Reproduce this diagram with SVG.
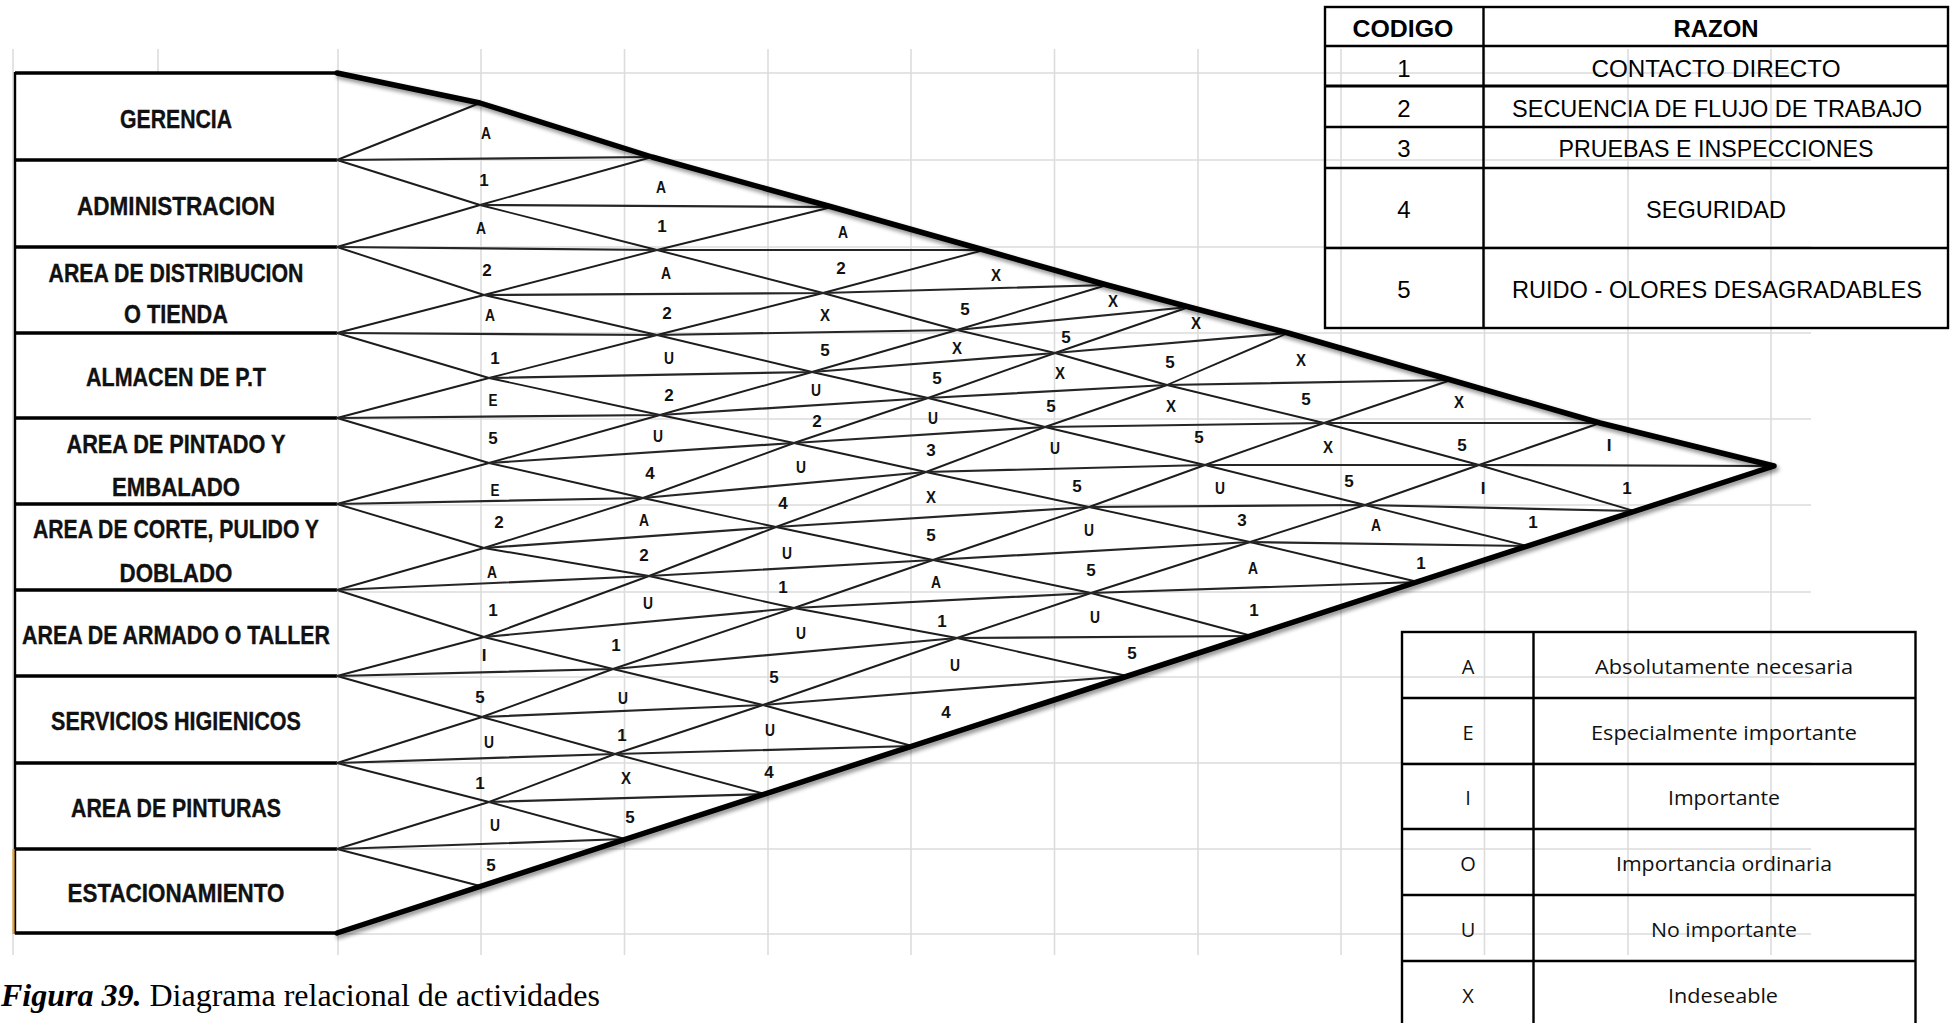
<svg xmlns="http://www.w3.org/2000/svg" width="1953" height="1023" viewBox="0 0 1953 1023">
<defs>
<style>
.grid{stroke:#dcdcdc;stroke-width:1.6;fill:none}
.lat{fill:none;stroke:#1c1c1c;stroke-width:1.9;stroke-linejoin:round;stroke-linecap:round}
.hl{fill:none;stroke:#262626;stroke-width:2.2;stroke-linejoin:round;stroke-linecap:round}
.edge{fill:none;stroke:#000;stroke-width:5.5;stroke-linejoin:round;stroke-linecap:round}
.rowl{stroke:#000;stroke-width:3.6;fill:none}
.box{fill:#fff}
.dept{font-family:'Liberation Sans',Arial,sans-serif;font-weight:bold;font-size:26px;fill:#111;stroke:#111;stroke-width:0.35;text-anchor:middle}
.lab{font-family:'Liberation Sans',Arial,sans-serif;font-weight:bold;font-size:17px;fill:#111;text-anchor:middle}
.t1{font-family:'Liberation Sans',Arial,sans-serif;font-size:24px;fill:#000;text-anchor:middle}
.t1b{font-family:'Liberation Sans',Arial,sans-serif;font-size:24px;font-weight:bold;fill:#000;text-anchor:middle}
.t2{font-family:'Open Sans','Liberation Sans',sans-serif;font-size:20px;fill:#111;text-anchor:middle}
.tb{fill:none;stroke:#000;stroke-width:2.4}
.cap{font-family:'Liberation Serif','Times New Roman',serif;font-size:32px;fill:#000}
</style>
<filter id="sh" x="-5%" y="-5%" width="112%" height="115%">
<feGaussianBlur in="SourceAlpha" stdDeviation="2.2"/>
<feOffset dx="2" dy="3" result="b"/>
<feComponentTransfer><feFuncA type="linear" slope="0.45"/></feComponentTransfer>
<feMerge><feMergeNode/><feMergeNode in="SourceGraphic"/></feMerge>
</filter>
</defs>
<rect width="1953" height="1023" fill="#fff"/>

<g id="grid" class="grid">
<path d="M13,49V955M338,49V955M481,49V955M624.5,49V955M768,49V955M911,49V955M1054.5,49V955M1198,49V955M1341,49V955M1484.5,49V955M1628,49V955M1771,49V955M158,49V73"/>
<path d="M13,73H1811M13,160H1811M13,247H1811M13,333H1811M13,419H1811M13,505H1811M13,592H1811M13,677H1811M13,763H1811M13,849H1811M13,934H1811"/>
</g>

<g id="departamentos">
<g id="gerencia"><rect class="box" x="15" y="73" width="322" height="87"/><text class="dept" x="176" y="128" textLength="112" lengthAdjust="spacingAndGlyphs">GERENCIA</text></g>
<g id="administracion"><rect class="box" x="15" y="160" width="322" height="87"/><text class="dept" x="176" y="215" textLength="198" lengthAdjust="spacingAndGlyphs">ADMINISTRACION</text></g>
<g id="distribucion"><rect class="box" x="15" y="247" width="322" height="86"/><text class="dept" x="176" y="282" textLength="255" lengthAdjust="spacingAndGlyphs">AREA DE DISTRIBUCION</text><text class="dept" x="176" y="323" textLength="104" lengthAdjust="spacingAndGlyphs">O TIENDA</text></g>
<g id="almacen"><rect class="box" x="15" y="333" width="322" height="85"/><text class="dept" x="176" y="386" textLength="180" lengthAdjust="spacingAndGlyphs">ALMACEN DE P.T</text></g>
<g id="pintado"><rect class="box" x="15" y="418" width="322" height="86"/><text class="dept" x="176" y="453" textLength="219" lengthAdjust="spacingAndGlyphs">AREA DE PINTADO Y</text><text class="dept" x="176" y="496" textLength="128" lengthAdjust="spacingAndGlyphs">EMBALADO</text></g>
<g id="corte"><rect class="box" x="15" y="504" width="322" height="86"/><text class="dept" x="176" y="538" textLength="286" lengthAdjust="spacingAndGlyphs">AREA DE CORTE, PULIDO Y</text><text class="dept" x="176" y="582" textLength="113" lengthAdjust="spacingAndGlyphs">DOBLADO</text></g>
<g id="armado"><rect class="box" x="15" y="590" width="322" height="86"/><text class="dept" x="176" y="644" textLength="308" lengthAdjust="spacingAndGlyphs">AREA DE ARMADO O TALLER</text></g>
<g id="servicios"><rect class="box" x="15" y="676" width="322" height="87"/><text class="dept" x="176" y="730" textLength="250" lengthAdjust="spacingAndGlyphs">SERVICIOS HIGIENICOS</text></g>
<g id="pinturas"><rect class="box" x="15" y="763" width="322" height="86"/><text class="dept" x="176" y="817" textLength="210" lengthAdjust="spacingAndGlyphs">AREA DE PINTURAS</text></g>
<g id="estacionamiento"><rect class="box" x="15" y="849" width="322" height="84"/><text class="dept" x="176" y="902" textLength="217" lengthAdjust="spacingAndGlyphs">ESTACIONAMIENTO</text></g>
<g id="bordes">
<path class="rowl" d="M15,73H337M15,160H337M15,247H337M15,333H337M15,418H337M15,504H337M15,590H337M15,676H337M15,763H337M15,849H337M15,933H337"/>
<path d="M15,72V934" stroke="#000" stroke-width="2.4"/>
<path d="M13.5,849V934" stroke="#e0a13a" stroke-width="2.2"/>
</g>
</g>

<g id="conectores">
<g id="diagonales-bajan">
<polyline class="lat" points="337,160 480,205 657,250 823,293 957,330 1055,353 1167,385 1324,423 1479,465 1634,511"/>
<polyline class="lat" points="337,247 484,295 657,335 812,372 928,398 1045,427 1205,465 1365,505 1527,546"/>
<polyline class="lat" points="337,333 489,378 660,415 794,443 926,472 1089,507 1250,542 1418,582"/>
<polyline class="lat" points="337,418 489,463 643,498 776,527 933,560 1091,593 1252,636"/>
<polyline class="lat" points="337,504 484,548 649,576 794,608 957,638 1127,676"/>
<polyline class="lat" points="337,590 484,637 613,669 763,705 912,746"/>
<polyline class="lat" points="337,676 482,717 615,754 765,794"/>
<polyline class="lat" points="337,763 489,802 625,839"/>
<polyline class="lat" points="337,849 480,886"/>
</g>
<g id="diagonales-suben">
<polyline class="lat" points="337,160 480,103"/>
<polyline class="lat" points="337,247 480,205 652,157"/>
<polyline class="lat" points="337,333 484,295 657,250 832,207"/>
<polyline class="lat" points="337,418 489,378 657,335 823,293 984,250"/>
<polyline class="lat" points="337,504 489,463 660,415 812,372 957,330 1107,285"/>
<polyline class="lat" points="337,590 484,548 643,498 794,443 928,398 1055,353 1189,307"/>
<polyline class="lat" points="337,676 484,637 649,576 776,527 926,472 1045,427 1167,385 1288,333"/>
<polyline class="lat" points="337,763 482,717 613,669 794,608 933,560 1089,507 1205,465 1324,423 1451,380"/>
<polyline class="lat" points="337,849 489,802 615,754 763,705 957,638 1091,593 1250,542 1365,505 1479,465 1600,423"/>
</g>
<g id="horizontales">
<polyline class="hl" points="337,160 652,157"/>
<polyline class="hl" points="480,205 832,207"/>
<polyline class="hl" points="337,247 657,250 984,250"/>
<polyline class="hl" points="484,295 823,293 1107,285"/>
<polyline class="hl" points="337,333 657,335 957,330 1189,307"/>
<polyline class="hl" points="489,378 812,372 1055,353 1288,333"/>
<polyline class="hl" points="337,418 660,415 928,398 1167,385 1451,380"/>
<polyline class="hl" points="489,463 794,443 1045,427 1324,423 1600,423"/>
<polyline class="hl" points="337,504 643,498 926,472 1205,465 1479,465 1774,466"/>
<polyline class="hl" points="484,548 776,527 1089,507 1365,505 1634,511"/>
<polyline class="hl" points="337,590 649,576 933,560 1250,542 1527,546"/>
<polyline class="hl" points="484,637 794,608 1091,593 1418,582"/>
<polyline class="hl" points="337,676 613,669 957,638 1252,636"/>
<polyline class="hl" points="482,717 763,705 1127,676"/>
<polyline class="hl" points="337,763 615,754 912,746"/>
<polyline class="hl" points="489,802 765,794"/>
<polyline class="hl" points="337,849 625,839"/>
</g>
<path id="contorno" class="edge" filter="url(#sh)" d="M337,73 L480,103 L652,157 L832,207 L984,250 L1107,285 L1189,307 L1288,333 L1451,380 L1600,423 L1774,466 L337,933"/>
</g>

<g id="relaciones" class="lab">
<text x="486" y="139" textLength="10" lengthAdjust="spacingAndGlyphs">A</text><text x="484" y="186">1</text>
<text x="661" y="193" textLength="10" lengthAdjust="spacingAndGlyphs">A</text><text x="662" y="232">1</text>
<text x="843" y="238" textLength="10" lengthAdjust="spacingAndGlyphs">A</text><text x="841" y="274">2</text>
<text x="996" y="281" textLength="10" lengthAdjust="spacingAndGlyphs">X</text><text x="965" y="315">5</text>
<text x="1113" y="307" textLength="10" lengthAdjust="spacingAndGlyphs">X</text><text x="1066" y="343">5</text>
<text x="1196" y="329" textLength="10" lengthAdjust="spacingAndGlyphs">X</text><text x="1170" y="368">5</text>
<text x="1301" y="366" textLength="10" lengthAdjust="spacingAndGlyphs">X</text><text x="1306" y="405">5</text>
<text x="1459" y="408" textLength="10" lengthAdjust="spacingAndGlyphs">X</text><text x="1462" y="451">5</text>
<text x="1609" y="451">I</text><text x="1627" y="494">1</text>
<text x="481" y="234" textLength="10" lengthAdjust="spacingAndGlyphs">A</text><text x="487" y="276">2</text>
<text x="666" y="279" textLength="10" lengthAdjust="spacingAndGlyphs">A</text><text x="667" y="319">2</text>
<text x="825" y="321" textLength="10" lengthAdjust="spacingAndGlyphs">X</text><text x="825" y="356">5</text>
<text x="957" y="354" textLength="10" lengthAdjust="spacingAndGlyphs">X</text><text x="937" y="384">5</text>
<text x="1060" y="379" textLength="10" lengthAdjust="spacingAndGlyphs">X</text><text x="1051" y="412">5</text>
<text x="1171" y="412" textLength="10" lengthAdjust="spacingAndGlyphs">X</text><text x="1199" y="443">5</text>
<text x="1328" y="453" textLength="10" lengthAdjust="spacingAndGlyphs">X</text><text x="1349" y="487">5</text>
<text x="1483" y="494">I</text><text x="1533" y="528">1</text>
<text x="490" y="321" textLength="10" lengthAdjust="spacingAndGlyphs">A</text><text x="495" y="364">1</text>
<text x="669" y="364" textLength="10" lengthAdjust="spacingAndGlyphs">U</text><text x="669" y="401">2</text>
<text x="816" y="396" textLength="10" lengthAdjust="spacingAndGlyphs">U</text><text x="817" y="427">2</text>
<text x="933" y="424" textLength="10" lengthAdjust="spacingAndGlyphs">U</text><text x="931" y="456">3</text>
<text x="1055" y="454" textLength="10" lengthAdjust="spacingAndGlyphs">U</text><text x="1077" y="492">5</text>
<text x="1220" y="494" textLength="10" lengthAdjust="spacingAndGlyphs">U</text><text x="1242" y="526">3</text>
<text x="1376" y="531" textLength="10" lengthAdjust="spacingAndGlyphs">A</text><text x="1421" y="569">1</text>
<text x="493" y="406" textLength="9" lengthAdjust="spacingAndGlyphs">E</text><text x="493" y="444">5</text>
<text x="658" y="442" textLength="10" lengthAdjust="spacingAndGlyphs">U</text><text x="650" y="479">4</text>
<text x="801" y="473" textLength="10" lengthAdjust="spacingAndGlyphs">U</text><text x="783" y="509">4</text>
<text x="931" y="503" textLength="10" lengthAdjust="spacingAndGlyphs">X</text><text x="931" y="541">5</text>
<text x="1089" y="536" textLength="10" lengthAdjust="spacingAndGlyphs">U</text><text x="1091" y="576">5</text>
<text x="1253" y="574" textLength="10" lengthAdjust="spacingAndGlyphs">A</text><text x="1254" y="616">1</text>
<text x="495" y="496" textLength="9" lengthAdjust="spacingAndGlyphs">E</text><text x="499" y="528">2</text>
<text x="644" y="526" textLength="10" lengthAdjust="spacingAndGlyphs">A</text><text x="644" y="561">2</text>
<text x="787" y="559" textLength="10" lengthAdjust="spacingAndGlyphs">U</text><text x="783" y="593">1</text>
<text x="936" y="588" textLength="10" lengthAdjust="spacingAndGlyphs">A</text><text x="942" y="627">1</text>
<text x="1095" y="623" textLength="10" lengthAdjust="spacingAndGlyphs">U</text><text x="1132" y="659">5</text>
<text x="492" y="578" textLength="10" lengthAdjust="spacingAndGlyphs">A</text><text x="493" y="616">1</text>
<text x="648" y="609" textLength="10" lengthAdjust="spacingAndGlyphs">U</text><text x="616" y="651">1</text>
<text x="801" y="639" textLength="10" lengthAdjust="spacingAndGlyphs">U</text><text x="774" y="683">5</text>
<text x="955" y="671" textLength="10" lengthAdjust="spacingAndGlyphs">U</text><text x="946" y="718">4</text>
<text x="484" y="661">I</text><text x="480" y="703">5</text>
<text x="623" y="704" textLength="10" lengthAdjust="spacingAndGlyphs">U</text><text x="622" y="741">1</text>
<text x="770" y="736" textLength="10" lengthAdjust="spacingAndGlyphs">U</text><text x="769" y="778">4</text>
<text x="489" y="748" textLength="10" lengthAdjust="spacingAndGlyphs">U</text><text x="480" y="789">1</text>
<text x="626" y="784" textLength="10" lengthAdjust="spacingAndGlyphs">X</text><text x="630" y="823">5</text>
<text x="495" y="831" textLength="10" lengthAdjust="spacingAndGlyphs">U</text><text x="491" y="871">5</text>
</g>

<g id="tabla-codigos">
<rect class="tb" x="1325" y="7" width="623" height="321"/>
<path class="tb" d="M1483.5,7V328M1325,46H1948M1325,127H1948M1325,168H1948M1325,248H1948"/>
<path d="M1325,86H1948" stroke="#000" stroke-width="3"/>
<text class="t1b" x="1403" y="37" textLength="101" lengthAdjust="spacingAndGlyphs">CODIGO</text>
<text class="t1b" x="1716" y="37" textLength="85" lengthAdjust="spacingAndGlyphs">RAZON</text>
<text class="t1" x="1404" y="77">1</text>
<text class="t1" x="1716" y="77" textLength="249" lengthAdjust="spacingAndGlyphs">CONTACTO DIRECTO</text>
<text class="t1" x="1404" y="117">2</text>
<text class="t1" x="1717" y="117" textLength="410" lengthAdjust="spacingAndGlyphs">SECUENCIA DE FLUJO DE TRABAJO</text>
<text class="t1" x="1404" y="157">3</text>
<text class="t1" x="1716" y="157" textLength="315" lengthAdjust="spacingAndGlyphs">PRUEBAS E INSPECCIONES</text>
<text class="t1" x="1404" y="218">4</text>
<text class="t1" x="1716" y="218" textLength="140" lengthAdjust="spacingAndGlyphs">SEGURIDAD</text>
<text class="t1" x="1404" y="298">5</text>
<text class="t1" x="1717" y="298" textLength="410" lengthAdjust="spacingAndGlyphs">RUIDO - OLORES DESAGRADABLES</text>
</g>

<g id="tabla-leyenda">
<rect class="tb" x="1402" y="632" width="513.5" height="400"/>
<path class="tb" d="M1533.5,632V1030M1402,698H1915.5M1402,764H1915.5M1402,829H1915.5M1402,895H1915.5M1402,961H1915.5"/>
<text class="t2" x="1468" y="674">A</text>
<text class="t2" x="1724" y="674" textLength="258" lengthAdjust="spacingAndGlyphs">Absolutamente necesaria</text>
<text class="t2" x="1468" y="740">E</text>
<text class="t2" x="1724" y="740" textLength="266" lengthAdjust="spacingAndGlyphs">Especialmente importante</text>
<text class="t2" x="1468" y="805">I</text>
<text class="t2" x="1724" y="805" textLength="112" lengthAdjust="spacingAndGlyphs">Importante</text>
<text class="t2" x="1468" y="871">O</text>
<text class="t2" x="1724" y="871" textLength="216" lengthAdjust="spacingAndGlyphs">Importancia ordinaria</text>
<text class="t2" x="1468" y="937">U</text>
<text class="t2" x="1724" y="937" textLength="146" lengthAdjust="spacingAndGlyphs">No importante</text>
<text class="t2" x="1468" y="1003">X</text>
<text class="t2" x="1723" y="1003" textLength="110" lengthAdjust="spacingAndGlyphs">Indeseable</text>
</g>

<text id="titulo" class="cap" x="1" y="1006"><tspan font-weight="bold" font-style="italic">Figura 39.</tspan> Diagrama relacional de actividades</text>
</svg>
